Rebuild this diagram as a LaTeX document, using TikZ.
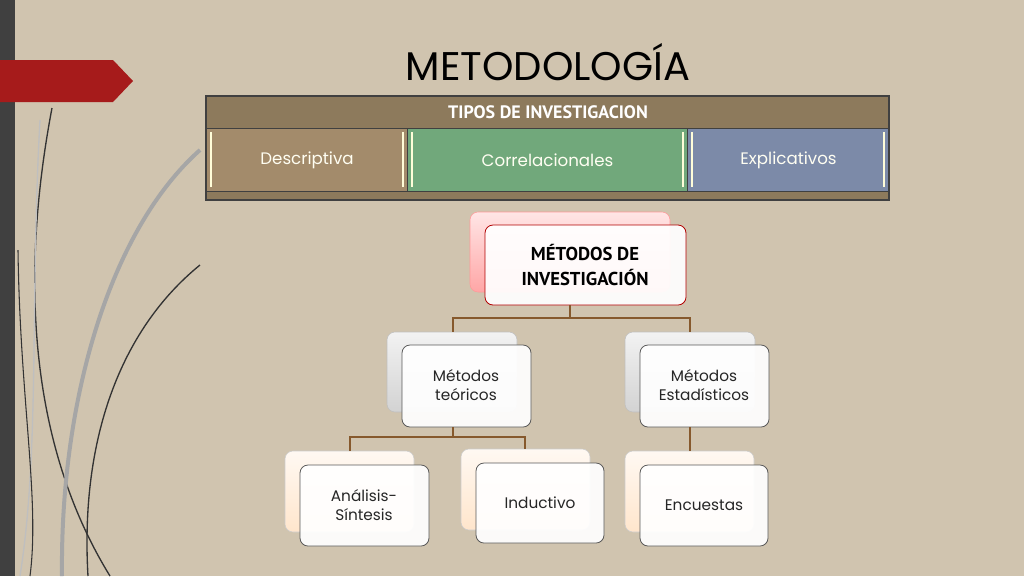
\documentclass[tikz,border=0pt]{standalone}
\usepackage{fontspec}
\setmainfont{Poppins}
\newfontfamily\hdfont{PT Sans}
\begin{document}
\begin{tikzpicture}[x=0.75pt,y=-0.75pt,
  backA/.style={rounded corners=6pt,top color=white!90!gray,bottom color=gray!35!white,draw=gray!50},
  backB/.style={rounded corners=6pt,top color=white!95!orange,bottom color=orange!20!white,draw=gray!40},
  front/.style={rounded corners=6pt,fill=white,fill opacity=0.93,draw=gray!70!black,line width=0.6pt},
  conn/.style={draw=brown!70!black,line width=1pt},
  lbl/.style={font=\fontsize{11.5}{14}\selectfont,text=black!85,align=center},
  cell/.style={draw=black!75,line width=0.8pt}]
\fill[fill={rgb,255:red,208;green,196;blue,175}] (0,0) rectangle (1024,576);
\useasboundingbox (0,0) rectangle (1024,576);
\fill[black!75] (0,0) rectangle (15,576);
% decorative curves
\draw[black!80,line width=1pt] (52,108) .. controls (25,250) and (20,430) .. (110,576);
\draw[black!80,line width=1pt] (200,265) .. controls (120,330) and (80,440) .. (88,576);
\draw[gray!70,line width=3pt] (200,150) .. controls (110,230) and (60,400) .. (62,576);
\draw[gray!50,line width=1pt] (40,120) .. controls (30,300) and (40,450) .. (20,576);
\draw[black!80,line width=0.8pt] (18,250) .. controls (20,400) and (40,500) .. (30,576);
% red arrow
\fill[fill={rgb,255:red,166;green,27;blue,27}] (0,60) -- (113,60) -- (133,81) -- (113,102) -- (0,102) -- cycle;
\node (title) at (548,62) {\fontsize{30}{34}\selectfont METODOLOGÍA};
% table
\fill[fill={rgb,255:red,141;green,122;blue,92}] (206,96) rectangle (889,200);
\node[cell,minimum width=683*0.75pt,minimum height=32*0.75pt,inner sep=0,anchor=north west,text=white] (hdr) at (206,96) {\hdfont\bfseries\fontsize{13.5}{15}\selectfont TIPOS DE INVESTIGACION};
\node[cell,fill={rgb,255:red,163;green,139;blue,107},minimum width=201*0.75pt,minimum height=63*0.75pt,anchor=north west,text=white!95!yellow,font=\fontsize{12.5}{14}\selectfont] (c1) at (206,128) {Descriptiva};
\node[cell,fill={rgb,255:red,113;green,168;blue,123},minimum width=280*0.75pt,minimum height=63*0.75pt,anchor=north west,text=white!95!yellow,font=\fontsize{12.5}{14}\selectfont] (c2) at (407,128) {Correlacionales};
\node[cell,fill={rgb,255:red,124;green,138;blue,168},minimum width=202*0.75pt,minimum height=63*0.75pt,anchor=north west,text=white!95!yellow,font=\fontsize{12.5}{14}\selectfont] (c3) at (687,128) {Explicativos};
\foreach \xx in {211,403,412,683,692,884}{\draw[white!85!yellow,line width=1.2pt] (\xx,132) -- (\xx,187);}
\draw[cell] (206,96) rectangle (889,200);
% hierarchy
\draw[rounded corners=6pt,top color=pink!40!white,bottom color=red!35!white,draw=red!40] (470,212) rectangle (670,292);
\node[front,draw=red!70!black,minimum width=201*0.75pt,minimum height=80*0.75pt] (m) at (585.5,265) {};
\node[align=center,font=\hdfont\bfseries\fontsize{14}{19}\selectfont] at (585,265) {MÉTODOS DE\\INVESTIGACIÓN};
\draw[backA] (387,332) rectangle (517,412);
\draw[backA] (625,332) rectangle (755,412);
\draw[backB] (285,451) rectangle (414,532);
\draw[backB] (461,449) rectangle (590,530);
\draw[backB] (625,451) rectangle (754,532);
\node[front,minimum width=129*0.75pt,minimum height=82*0.75pt] (mt) at (466.5,386) {};
\node[lbl] at (466,385) {Métodos\\teóricos};
\node[front,minimum width=129*0.75pt,minimum height=82*0.75pt] (me) at (704.5,386) {};
\node[lbl] at (704,385) {Métodos\\Estadísticos};
\node[front,minimum width=129*0.75pt,minimum height=81*0.75pt] (an) at (364.5,505.5) {};
\node[lbl] at (364,505) {Análisis-\\Síntesis};
\node[front,minimum width=128*0.75pt,minimum height=80*0.75pt] (in) at (540,503) {};
\node[lbl] at (540,503) {Inductivo};
\node[front,minimum width=128*0.75pt,minimum height=81*0.75pt] (en) at (704,505.5) {};
\node[lbl] at (704,505) {Encuestas};
% connectors
\coordinate (j1) at (570,318);
\coordinate (j2) at (453,437);
\draw[conn] (m.south -| j1) -- (j1) -- (453,318) -- (453,332);
\draw[conn] (j1) -- (690,318) -- (690,332);
\draw[conn] (mt.south -| j2) -- (j2) -- (350,437) -- (350,451);
\draw[conn] (j2) -- (525,437) -- (525,449);
\draw[conn] (me.south -| 690,0) -- (690,451);
\end{tikzpicture}
\end{document}
